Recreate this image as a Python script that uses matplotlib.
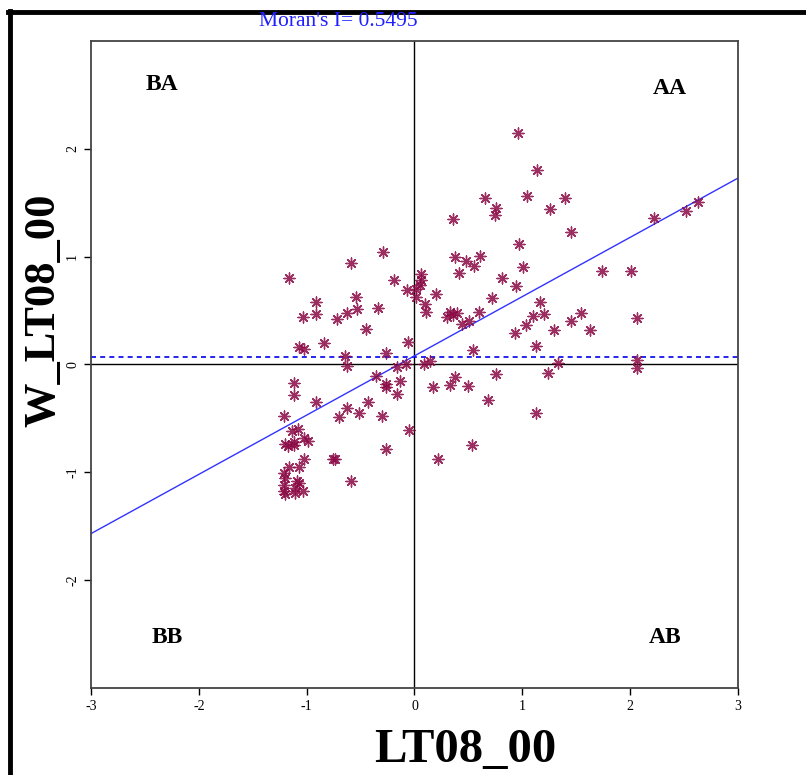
#!/usr/bin/env python
import numpy as np
import matplotlib
matplotlib.use('Agg')
from matplotlib import pyplot as plt
from matplotlib.lines import Line2D

plt.rcParams['font.family'] = ['Liberation Serif', 'DejaVu Serif']
plt.rcParams['axes.unicode_minus'] = False

MORAN_I = 0.5495
FIT_INTERCEPT = 0.08
WY_MEAN = 0.074

# standardized LT08_00 and its spatial lag
lt08 = [
    -0.29, -0.59, -1.16, -0.19, -0.07, 0.06, 0.06, 0.05, 0.01, 0.01,
    -0.91, -0.54, -1.03, -0.91, -0.72, -0.63, -0.53, -0.34, -0.45, -1.07,
    -1.02, -0.84, -0.06, -0.26, -0.64, -0.63, -0.16, -0.08, 0.09, 0.14,
    -0.36, -0.26, -0.26, -0.13, -0.16, -1.12, -1.12, -0.91, -0.43, -0.63,
    -0.51, -1.21, -0.70, -0.30, -0.05, -1.14, -1.08, -1.02, -0.99, -1.20,
    -1.17, -1.12, -1.12, -0.26, -1.02, -0.74, -0.76, -1.16, -1.07, -1.21,
    -1.20, -1.09, -1.07, -0.59, -1.21, -1.21, -1.20, -1.11, -1.03, -1.11,
    0.96, 1.14, 0.65, 1.04, 1.40, 0.76, 0.75, 1.26, 0.36, 1.45,
    0.97, 0.38, 0.48, 0.61, 0.55, 0.41, 1.01, 0.81, 0.94, 0.20,
    0.10, 0.11, 0.72, 1.16, 0.33, 0.36, 0.39, 0.30, 0.60, 0.44,
    0.51, 1.10, 1.20, 1.03, 1.29, 0.93, 1.45, 0.54, 1.13, 1.33,
    2.63, 2.52, 2.22, 1.74, 2.01, 1.54, 1.63, 2.06, 2.06, 2.06,
    0.38, 0.33, 0.17, 0.50, 0.76, 1.24, 0.68, 1.13, 0.53, 0.22,
]
w_lt08 = [
    1.04, 0.94, 0.80, 0.78, 0.69, 0.84, 0.78, 0.74, 0.70, 0.63,
    0.58, 0.63, 0.44, 0.47, 0.42, 0.48, 0.51, 0.52, 0.33, 0.16,
    0.14, 0.20, 0.21, 0.11, 0.08, -0.01, -0.02, 0.00, 0.00, 0.03,
    -0.11, -0.18, -0.21, -0.15, -0.27, -0.17, -0.28, -0.35, -0.35, -0.40,
    -0.45, -0.48, -0.49, -0.48, -0.61, -0.62, -0.60, -0.68, -0.71, -0.74,
    -0.76, -0.72, -0.75, -0.78, -0.88, -0.88, -0.88, -0.95, -0.95, -1.01,
    -1.05, -1.08, -1.10, -1.08, -1.12, -1.17, -1.20, -1.15, -1.17, -1.19,
    2.15, 1.80, 1.54, 1.56, 1.54, 1.45, 1.39, 1.44, 1.35, 1.23,
    1.12, 1.00, 0.96, 1.01, 0.91, 0.85, 0.90, 0.80, 0.73, 0.65,
    0.56, 0.49, 0.62, 0.58, 0.49, 0.46, 0.48, 0.44, 0.49, 0.38,
    0.40, 0.45, 0.47, 0.37, 0.32, 0.29, 0.40, 0.13, 0.17, 0.01,
    1.51, 1.42, 1.36, 0.87, 0.87, 0.48, 0.32, 0.43, 0.04, -0.03,
    -0.12, -0.19, -0.21, -0.20, -0.09, -0.08, -0.33, -0.45, -0.75, -0.88,
]

QUADRANTS = {'BA': (-2.34, 2.60), 'AA': (2.37, 2.56), 'BB': (-2.29, -2.53), 'AB': (2.32, -2.53)}


def draw_moran_plot():
    fig = plt.figure(figsize=(8.06, 7.75), dpi=100)
    ax = fig.add_axes([0.1129, 0.1123, 0.8027, 0.8348])

    ax.axhline(0, color='black', lw=1)
    ax.axvline(0, color='black', lw=1)
    ax.axhline(WY_MEAN, color='#0000ee', lw=1.2, ls=(0, (3, 2.5)))

    xs = np.array([-3, 3])
    ax.plot(xs, FIT_INTERCEPT + MORAN_I * xs, color='#3333ff', lw=1)

    ax.scatter(lt08, w_lt08, marker=(8, 2, 0), s=62, color='#8a0a45',
               linewidths=1.0, alpha=0.85, zorder=3)

    for label, (qx, qy) in QUADRANTS.items():
        ax.text(qx, qy, label, fontsize=17, fontweight='bold', ha='center', va='center')

    ax.set_xlim(-3, 3)
    ax.set_ylim(-3, 3)
    ax.set_xticks(range(-3, 4))
    ax.set_yticks(range(-2, 3))
    ax.tick_params(direction='out', length=5, width=1, labelsize=10)
    for lab in ax.get_yticklabels():
        lab.set_rotation(90)
        lab.set_va('center')
    for sp in ax.spines.values():
        sp.set_color('#444444')
        sp.set_linewidth(1.3)

    fig.text(465 / 806, 1 - 750 / 775, 'LT08_00', fontsize=35, fontweight='bold',
             ha='center', va='center')
    fig.text(43 / 806, 1 - 310 / 775, 'W_LT08_00', fontsize=32, fontweight='bold',
             ha='center', va='center', rotation=90)
    fig.text(338 / 806, 1 - 22 / 775, "Moran's I= 0.5495", fontsize=15.5,
             color='#2020ff', ha='center', va='center')

    # outer frame of the screenshot
    fig.add_artist(Line2D([10 / 806, 10 / 806], [0, 1 - 11 / 775], color='black', lw=3.5,
                          transform=fig.transFigure))
    fig.add_artist(Line2D([8 / 806, 1], [1 - 12 / 775, 1 - 12 / 775], color='black', lw=3.5,
                          transform=fig.transFigure))

    fig.savefig('out.png', dpi=100)


def main():
    draw_moran_plot()


if __name__ == '__main__':
    main()
